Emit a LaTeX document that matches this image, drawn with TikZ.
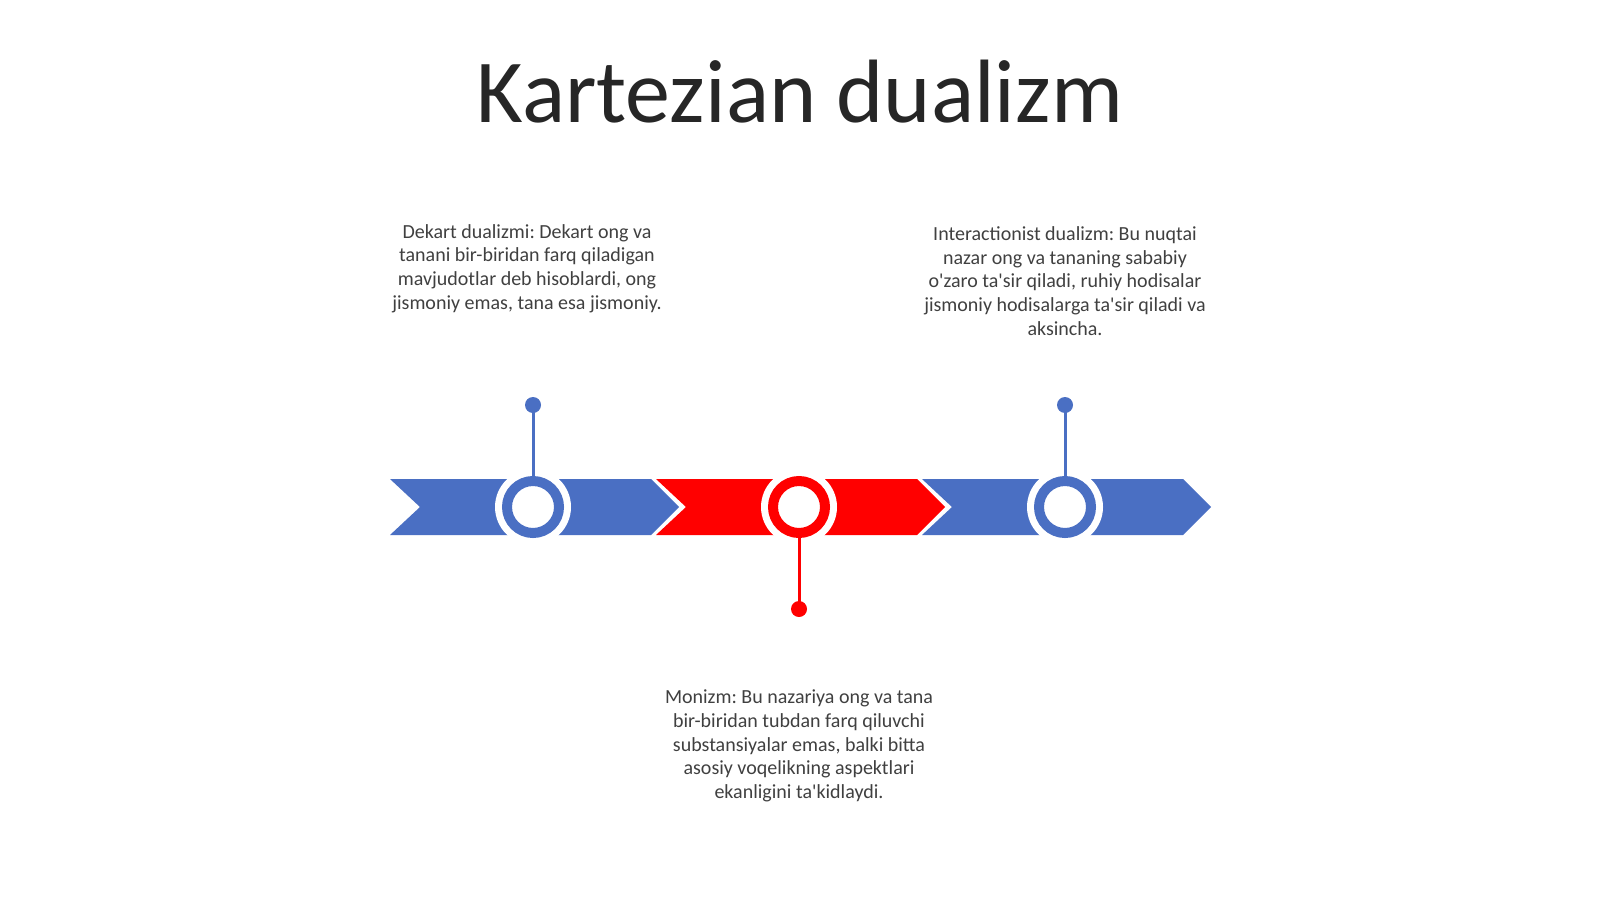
\documentclass[tikz,border=0pt]{standalone}
\usepackage{fontspec}
\setmainfont{Carlito}
\newfontfamily\cfont{Carlito}
\definecolor{cblue}{HTML}{4A6FC3}
\definecolor{cred}{HTML}{FF0000}
\definecolor{txt}{HTML}{404040}
\definecolor{ttl}{HTML}{262626}
\frenchspacing
\begin{document}
\begin{tikzpicture}[x=1pt,y=-1pt,
  halo/.style={circle,fill=white,inner sep=0pt,minimum size=76pt},
  ring/.style={circle,draw=#1,line width=10pt,fill=white,inner sep=0pt,minimum size=52pt},
  pin/.style={circle,fill=#1,inner sep=0pt,minimum size=16pt},
  stem/.style={draw=#1,line width=3pt},
  desc/.style={font=\cfont\frenchspacing\fontsize{20}{23.8}\selectfont,text=txt,align=center,inner sep=0pt},
  ttlstyle/.style={font=\cfont\fontsize{90}{100}\selectfont,text=ttl,inner sep=0pt,anchor=base}]
\useasboundingbox (0,0) rectangle (1600,899);
\fill[white] (0,0) rectangle (1600,899);
% title
\node[ttlstyle] (title) at (800,122) {Kartezian dualizm};
% chevrons
\foreach \i/\c in {0/cblue,1/cred,2/cblue}{
  \pgfmathsetmacro{\L}{390+266*\i}
  \fill[\c] (\L,479) -- ({\L+261},479) -- ({\L+289},507) -- ({\L+261},535) -- (\L,535) -- ({\L+30},507) -- cycle;
}
% circles
\node[halo] (h1) at (533,507) {};
\node[halo] (h2) at (799,507) {};
\node[halo] (h3) at (1065,507) {};
\node[ring=cblue] (r1) at (533,507) {};
\node[ring=cred] (r2) at (799,507) {};
\node[ring=cblue] (r3) at (1065,507) {};
% pins
\node[pin=cblue] (p1) at (533,405) {};
\node[pin=cred] (p2) at (799,609) {};
\node[pin=cblue] (p3) at (1065,405) {};
\draw[stem=cblue] (p1.center) -- (r1.north);
\draw[stem=cred] (p2.center) -- (r2.south);
\draw[stem=cblue] (p3.center) -- (r3.north);
% texts
\node[desc] (t1) at (527,268.5) {Dekart dualizmi: Dekart ong va\\tanani bir-biridan farq qiladigan\\mavjudotlar deb hisoblardi, ong\\jismoniy emas, tana esa jismoniy.};
\node[desc] (t2) at (1065,281) {Interactionist dualizm: Bu nuqtai\\nazar ong va tananing sababiy\\o'zaro ta'sir qiladi, ruhiy hodisalar\\jismoniy hodisalarga ta'sir qiladi va\\aksincha.};
\node[desc] (t3) at (799,746) {Monizm: Bu nazariya ong va tana\\bir-biridan tubdan farq qiluvchi\\substansiyalar emas, balki bitta\\asosiy voqelikning aspektlari\\ekanligini ta'kidlaydi.};
\end{tikzpicture}
\end{document}
